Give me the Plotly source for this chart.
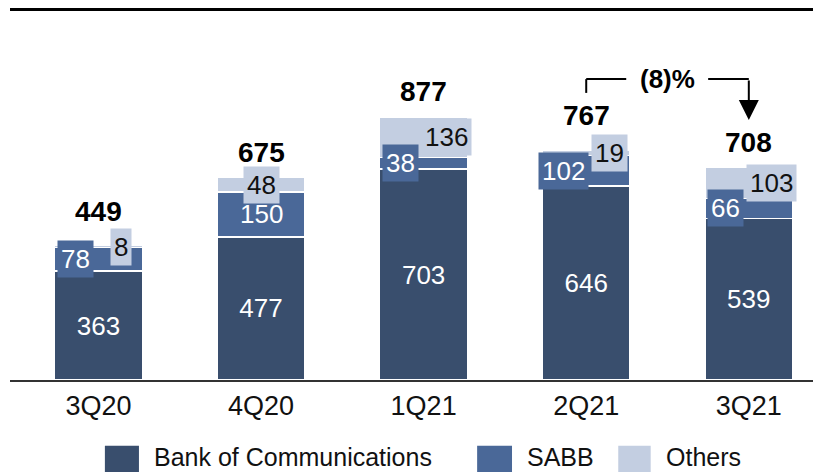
import plotly.graph_objects as go

quarters = ["3Q20", "4Q20", "1Q21", "2Q21", "3Q21"]
bocom = [363, 477, 703, 646, 539]
sabb = [78, 150, 38, 102, 66]
others = [8, 48, 136, 19, 103]
totals = [449, 675, 877, 767, 708]
series_names = ["Bank of Communications", "SABB", "Others"]
change_label = "(8)%"

C_DARK = "#394e6d"
C_MID = "#4a6898"
C_LIGHT = "#c3cee1"
FONT = "Liberation Sans, Arial, sans-serif"

fig = go.Figure()
fig.add_bar(x=quarters, y=bocom, name=series_names[0], marker=dict(color=C_DARK, line=dict(color="white", width=1.5)),
            text=[str(v) for v in bocom], textposition="inside", insidetextanchor="middle",
            textfont=dict(color="white", size=26, family=FONT), textangle=0, constraintext="none", showlegend=False)
fig.add_bar(x=quarters, y=sabb, name=series_names[1], marker=dict(color=C_MID, line=dict(color="white", width=1.5)),
            showlegend=False)
fig.add_bar(x=quarters, y=others, name=series_names[2], marker=dict(color=C_LIGHT, line=dict(color="white", width=1.5)),
            showlegend=False)

ann = []
for i, q in enumerate(quarters):
    shift = 0 if q == "4Q20" else 23
    ann.append(dict(x=q, y=bocom[i] + sabb[i] / 2, text=str(sabb[i]), showarrow=False, xshift=-shift,
                    bgcolor=C_MID, borderpad=3, font=dict(color="white", size=26, family=FONT)))
    ann.append(dict(x=q, y=bocom[i] + sabb[i] + others[i] / 2, text=str(others[i]), showarrow=False, xshift=shift,
                    bgcolor=C_LIGHT, borderpad=3, font=dict(color="#111", size=26, family=FONT)))
    ann.append(dict(x=q, y=totals[i], text="<b>%d</b>" % totals[i], showarrow=False,
                    yshift=34 if q in ("3Q20", "2Q21") else 25,
                    font=dict(color="black", size=28, family=FONT)))

# change bracket 2Q21 -> 3Q21
y_br = 1003
ann.append(dict(x=3.5, y=y_br, text="<b>%s</b>" % change_label, showarrow=False,
                font=dict(color="black", size=26, family=FONT)))
ann.append(dict(x=4, y=867, ax=4, ay=y_br, axref="x", ayref="y", xref="x", yref="y", text="",
                showarrow=True, arrowhead=2, arrowsize=2, arrowwidth=2, arrowcolor="black"))

shapes = [
    dict(type="line", xref="x", yref="y", x0=3, x1=3, y0=957, y1=y_br, line=dict(color="black", width=2)),
    dict(type="line", xref="x", yref="y", x0=3, x1=3.246, y0=y_br, y1=y_br, line=dict(color="black", width=2)),
    dict(type="line", xref="x", yref="y", x0=3.75, x1=4, y0=y_br, y1=y_br, line=dict(color="black", width=2)),
    dict(type="line", xref="paper", yref="paper", x0=0, x1=1, y0=0.996, y1=0.996, line=dict(color="black", width=3)),
]

# manual legend
leg = [(0.117, 0.159, 0.175), (0.576, 0.619, 0.635), (0.750, 0.790, 0.806)]
for (sx0, sx1, tx), name, col in zip(leg, series_names, [C_DARK, C_MID, C_LIGHT]):
    shapes.append(dict(type="rect", xref="paper", yref="paper", x0=sx0, x1=sx1, y0=-0.247, y1=-0.177,
                       fillcolor=col, line=dict(width=0)))
    ann.append(dict(xref="paper", yref="paper", x=tx, y=-0.206, xanchor="left", yanchor="middle", text=name,
                    showarrow=False, font=dict(color="#111", size=25, family=FONT)))

fig.update_layout(
    width=813, height=464, barmode="stack", bargap=0.46,
    margin=dict(l=2, r=0, t=0, b=92),
    plot_bgcolor="white", paper_bgcolor="white",
    annotations=ann, shapes=shapes, showlegend=False,
    font=dict(family=FONT),
)
fig.update_xaxes(range=[-0.544, 4.444], showline=True, linecolor="#333", linewidth=2, ticks="outside",
                 ticklen=1, tickcolor="rgba(0,0,0,0)", tickfont=dict(size=27, color="#111", family=FONT),
                 showgrid=False, fixedrange=True)
fig.update_yaxes(range=[0, 1240], visible=False, showgrid=False, fixedrange=True)
fig.write_html("out.html")
